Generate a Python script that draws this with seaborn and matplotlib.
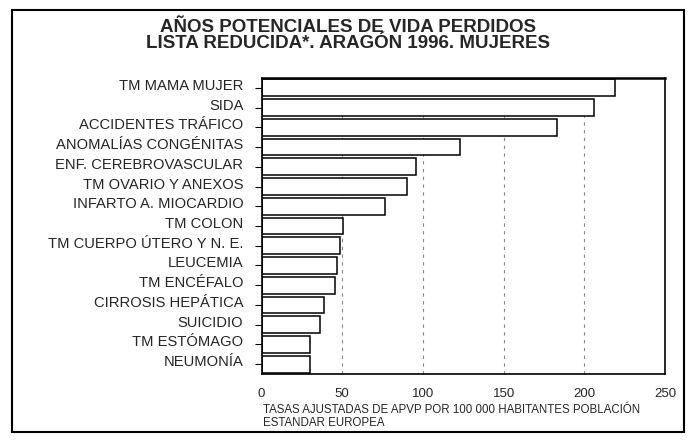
import matplotlib
matplotlib.use("Agg")
import matplotlib.pyplot as plt
import matplotlib.transforms as mtrans
import seaborn as sns
import pandas as pd
from matplotlib.patches import Rectangle

categories = [
    "TM MAMA MUJER", "SIDA", "ACCIDENTES TRÁFICO", "ANOMALÍAS CONGÉNITAS",
    "ENF. CEREBROVASCULAR", "TM OVARIO Y ANEXOS", "INFARTO A. MIOCARDIO",
    "TM COLON", "TM CUERPO ÚTERO Y N. E.", "LEUCEMIA", "TM ENCÉFALO",
    "CIRROSIS HEPÁTICA", "SUICIDIO", "TM ESTÓMAGO", "NEUMONÍA",
]
values = [219, 206, 183, 123, 96, 90, 76.5, 50.5, 48.5, 46.5, 45.5, 38.5, 36.5, 30, 30]
x_ticks = [0, 50, 100, 150, 200, 250]
title_line1 = "AÑOS POTENCIALES DE VIDA PERDIDOS"
title_line2 = "LISTA REDUCIDA*. ARAGÓN 1996. MUJERES"
xlabel = "TASAS AJUSTADAS DE APVP POR 100 000 HABITANTES POBLACIÓN\nESTANDAR EUROPEA"

sns.set_theme(style="white")
plt.rcParams["font.family"] = ["Liberation Sans", "DejaVu Sans"]

df = pd.DataFrame({"cat": categories, "val": values})

W, H = 691, 441
fig = plt.figure(figsize=(W / 100, H / 100), dpi=100)
ax_left, ax_right, ax_top, ax_bottom = 261.5, 665, 78, 374
ax = fig.add_axes([ax_left / W, 1 - ax_bottom / H,
                   (ax_right - ax_left) / W, (ax_bottom - ax_top) / H])

for g in [50, 100, 150, 200]:
    ax.axvline(g, color="#888888", lw=0.8, ls=(0, (3, 4)), zorder=0)

sns.barplot(data=df, x="val", y="cat", orient="h", color="white",
            edgecolor="black", linewidth=1.1, width=0.85, ax=ax, zorder=2)
for p in ax.patches:
    p.set_facecolor("white")

ax.set_xlim(0, 250)
ax.set_ylim(len(categories) - 0.5, -0.5)
ax.set_xticks(x_ticks)
ax.set_xticklabels([str(t) for t in x_ticks], fontsize=9.5)
ax.set_xlabel("")
ax.set_ylabel("")
ax.tick_params(axis="y", length=5, width=0.8, color="black", labelsize=10.6,
               pad=8, left=True)
ax.tick_params(axis="x", length=0, pad=10)
offset = mtrans.ScaledTranslation(0, 2.5 / 72, fig.dpi_scale_trans)
for lbl in ax.get_yticklabels():
    lbl.set_transform(lbl.get_transform() + offset)
for s in ax.spines.values():
    s.set_visible(True)
    s.set_color("black")
    s.set_linewidth(1.2)
ax.spines["top"].set_linewidth(1.8)

fig.text(348 / W, 1 - 28 / H, title_line1, ha="center", va="center",
         fontsize=13.5, fontweight="bold")
fig.text(348 / W, 1 - 44 / H, title_line2, ha="center", va="center",
         fontsize=13.5, fontweight="bold")
fig.text(263 / W, 1 - 416.5 / H, xlabel, ha="left", va="center", fontsize=8.3,
         linespacing=1.1)

fig.patches.append(Rectangle((12 / W, 9 / H), 672 / W, 422 / H,
                             transform=fig.transFigure, fill=False,
                             edgecolor="black", lw=1.5))

fig.savefig("out.png", dpi=100)
